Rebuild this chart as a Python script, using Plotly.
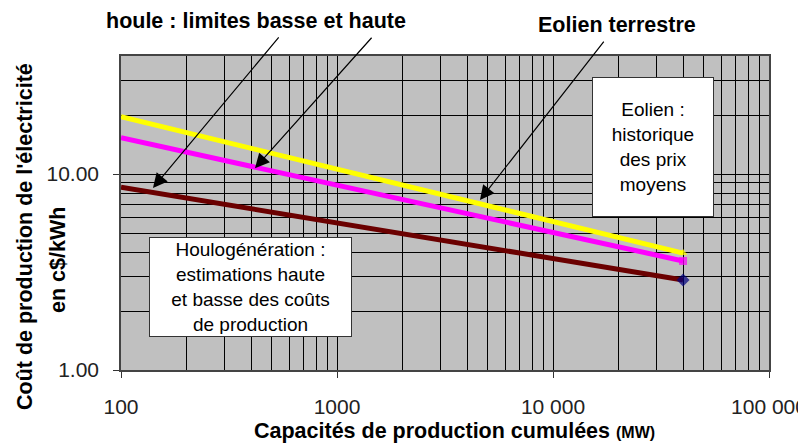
import plotly.graph_objects as go
import math

# ---- data ----
capacites = [100, 40000]                 # MW (cumulative capacity)
eolien_terrestre = [19.6, 3.95]          # c$/kWh, yellow
houle_haute = [15.3, 3.6]                # c$/kWh, magenta
houle_basse = [8.55, 2.88]               # c$/kWh, dark red

x_tickvals = [100, 1000, 10000, 100000]
x_ticktext = ["100", "1000", "10 000", "100 000"]
y_tickvals = [1, 10]
y_ticktext = ["1.00", "10.00"]

x_minor = [m * d for d in (100, 1000, 10000) for m in range(2, 10)]
y_minor = [2, 3, 4, 5, 6, 7, 8, 9, 20, 30, 40]

FONT = "Liberation Sans, Arial, sans-serif"

fig = go.Figure()

series = [
    ("Eolien terrestre", eolien_terrestre, "#FFFF00", "triangle-up", 8, "#FFFF00"),
    ("Houle haute", houle_haute, "#FF00FF", "square", 8, "#FF00FF"),
    ("Houle basse", houle_basse, "#6B0000", "diamond", 10, "#000080"),
]
for name, ys, col, sym, msize, mcol in series:
    fig.add_trace(go.Scatter(
        x=capacites, y=ys, mode="lines+markers", name=name,
        line=dict(color=col, width=5),
        marker=dict(symbol=sym, size=[0, msize], color=mcol,
                    line=dict(width=0)),
        showlegend=False,
    ))

# page body has an 8px default margin -> compensate
fig.update_layout(
    width=806, height=437,
    margin=dict(l=113, r=45, t=48, b=75),
    paper_bgcolor="white",
    plot_bgcolor="#C0C0C0",
    font=dict(family=FONT, size=21, color="#1a1a1a"),
    showlegend=False,
)

fig.update_xaxes(
    type="log", range=[2, 5], automargin=False, ticklabeloverflow="allow",
    tickmode="array", tickvals=x_tickvals, ticktext=x_ticktext,
    ticks="outside", ticklen=6, tickcolor="#333", ticklabelstandoff=11,
    showgrid=True, gridcolor="black", gridwidth=1,
    minor=dict(tickvals=x_minor, showgrid=True, gridcolor="black",
               gridwidth=1, ticks=""),
    showline=True, linecolor="#444", linewidth=1.5, mirror=True,
    zeroline=False, tickfont=dict(size=21, color="#222"),
)
fig.update_yaxes(
    type="log", range=[0, math.log10(40)], automargin=False,
    tickmode="array", tickvals=y_tickvals, ticktext=y_ticktext,
    ticks="outside", ticklen=6, tickcolor="#333", ticklabelstandoff=10,
    showgrid=True, gridcolor="black", gridwidth=1,
    minor=dict(tickvals=y_minor, showgrid=True, gridcolor="black",
               gridwidth=1, ticks=""),
    showline=True, linecolor="#444", linewidth=1.5, mirror=True,
    zeroline=False, tickfont=dict(size=21, color="#222"),
)

ann = []
# top labels
ann.append(dict(text="<b>houle : limites basse et haute</b>", xref="paper", yref="paper",
                x=0.2083, y=1.113, xanchor="center", yanchor="middle",
                showarrow=False, font=dict(size=21.5, color="black")))
ann.append(dict(text="<b>Eolien terrestre</b>", xref="paper", yref="paper",
                x=0.7647, y=1.098, xanchor="center", yanchor="middle",
                showarrow=False, font=dict(size=21.5, color="black")))

# arrows (heads in data coords, tails as pixel offsets)
arrows = [(140.6, 8.49, 127, -152), (417, 10.7, 118, -132), (4590, 7.36, 125, -160)]
for ax_, ay_, dx, dy in arrows:
    ann.append(dict(text="", x=math.log10(ax_), y=math.log10(ay_), xref="x", yref="y",
                    ax=dx, ay=dy, showarrow=True, arrowhead=2, arrowsize=2.4,
                    arrowwidth=1.2, arrowcolor="black", standoff=0))

# text boxes
ann.append(dict(text="Houlogénération :<br>estimations haute<br>et basse des coûts<br>de production",
                xref="paper", yref="paper", x=0.2006, y=0.263,
                xanchor="center", yanchor="middle", showarrow=False,
                bgcolor="white", bordercolor="#333", borderwidth=1, borderpad=2,
                width=197, height=94, align="center",
                font=dict(size=19, color="black")))
ann.append(dict(text="Eolien :<br>historique<br>des prix<br>moyens",
                xref="paper", yref="paper", x=0.821, y=0.7086,
                xanchor="center", yanchor="middle", showarrow=False,
                bgcolor="white", bordercolor="#333", borderwidth=1, borderpad=2,
                width=116, height=134, align="center",
                font=dict(size=19, color="black")))

# axis titles
ann.append(dict(text="<b>Capacités de production cumulées <span style='font-size:16px'>(MW)</span></b>",
                xref="paper", yref="paper", x=0.5139, y=-0.194,
                xanchor="center", yanchor="middle", showarrow=False,
                font=dict(size=21.5, color="black")))
ann.append(dict(text="<b>Coût de production de l'électricité</b>",
                xref="paper", yref="paper", x=(25 - 121) / 648, y=(370 - 237) / 314,
                xanchor="center", yanchor="middle", showarrow=False, textangle=-90,
                font=dict(size=21.5, color="black")))
ann.append(dict(text="<b>en c$/kWh</b>",
                xref="paper", yref="paper", x=(58 - 121) / 648, y=(370 - 260) / 314,
                xanchor="center", yanchor="middle", showarrow=False, textangle=-90,
                font=dict(size=21.5, color="black")))

fig.update_layout(annotations=ann)
fig.write_html("out.html")
